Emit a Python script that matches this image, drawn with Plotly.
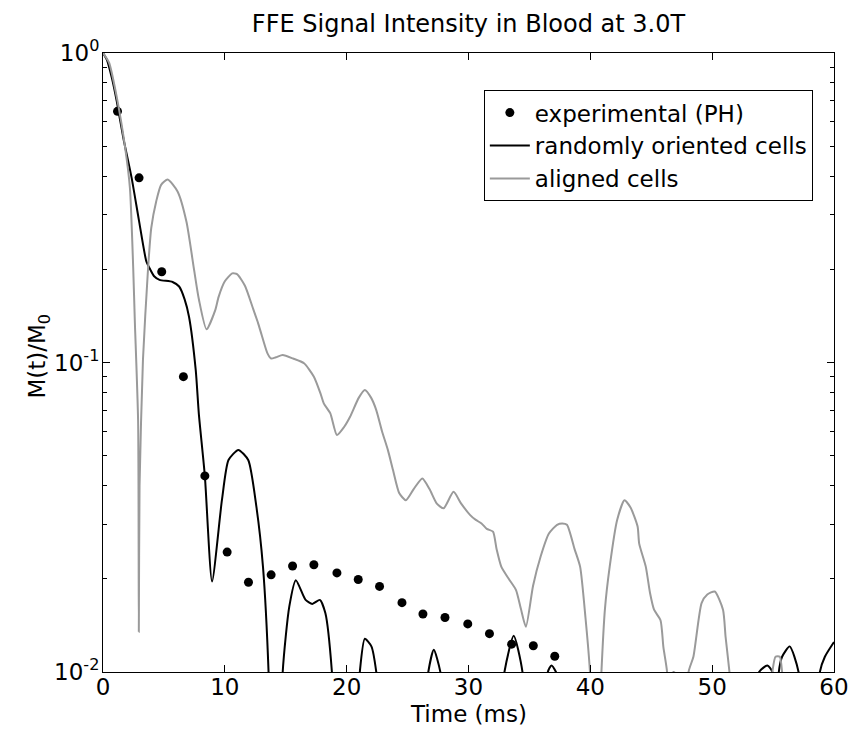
import plotly.graph_objects as go

# Experimental points (PH)
exp_t = [1.19, 2.96, 4.82, 6.60, 8.36, 10.19, 11.94, 13.80, 15.56, 17.31, 19.20,
         20.95, 22.70, 24.54, 26.26, 28.07, 29.94, 31.72, 33.54, 35.32, 37.08, 46.84]
exp_m = [0.648, 0.395, 0.1965, 0.090, 0.043, 0.0244, 0.0195, 0.0206, 0.0220, 0.0222, 0.0209,
         0.0199, 0.0189, 0.01675, 0.0154, 0.0150, 0.0143, 0.0133, 0.0123, 0.01216, 0.01124, 0.0097]

# Randomly oriented cells
rand_t = [0, 0.32, 0.73, 1.13, 1.67, 2.35, 2.95, 3.56, 3.83, 4.2, 4.64, 5.71, 6.25, 6.7,
          7.06, 7.61, 7.87, 8.36, 8.95, 9.76, 10.30, 11.11, 11.92, 12.59, 13.13, 13.59,
          14.17, 14.75, 15.29, 15.83, 16.63, 17.18, 17.80, 18.25, 18.79, 19.9, 21.08, 21.49,
          22.03, 22.43, 24.5, 26.70, 27.15, 27.69, 30.3, 32.95, 33.71, 34.43, 35.5, 36.51,
          36.81, 37.18, 45.5, 53.85, 54.53, 54.94, 55.2, 55.47, 55.74, 56.36, 57.09, 58.0,
          58.84, 59.25, 60.0]
rand_m = [1.0, 0.951, 0.83, 0.698, 0.531, 0.395, 0.288, 0.212, 0.2015, 0.19, 0.185, 0.182,
          0.176, 0.16, 0.1406, 0.0946, 0.068, 0.043, 0.0196, 0.0359, 0.0484, 0.0522, 0.0484,
          0.0342, 0.0219, 0.0100, 0.001, 0.0100, 0.01626, 0.0198, 0.0171, 0.0166, 0.0171,
          0.0155, 0.0100, 0.001, 0.0100, 0.0128, 0.0121, 0.0100, 0.001, 0.0100, 0.0118,
          0.0100, 0.001, 0.0100, 0.0131, 0.0100, 0.001, 0.0100, 0.0105, 0.0100, 0.001,
          0.0100, 0.0105, 0.0100, 0.005, 0.0100, 0.0112, 0.0121, 0.0100, 0.002, 0.0100,
          0.0112, 0.0125]

# Aligned cells
align_t = [0, 0.5, 1.13, 1.80, 2.21, 2.48, 2.61, 2.88, 2.94, 3.0, 3.28, 3.69, 3.96, 4.37,
           4.77, 5.31, 6.12, 6.85, 7.47, 7.87, 8.5, 9.22, 9.49, 10.0, 10.6, 11.0, 11.65,
           12.3, 12.73, 12.99, 13.5, 13.80, 14.2, 14.75, 15.6, 16.50, 17.31, 17.85, 18.12,
           18.66, 19.20, 19.8, 20.28, 21.0, 21.49, 22.0, 22.43, 22.9, 23.38, 23.8, 24.32,
           24.86, 25.5, 26.21, 26.8, 27.4, 27.96, 28.77, 29.4, 30.12, 30.6, 31.07, 31.5,
           32.01, 32.3, 32.69, 33.3, 33.90, 34.3, 34.71, 35.3, 35.92, 36.6, 37.27, 37.7,
           38.08, 38.7, 39.16, 39.6, 39.97, 40.4, 40.91, 41.2, 41.59, 42.2, 42.80, 43.3,
           43.88, 44.01, 44.55, 44.9, 45.23, 45.76, 46.0, 46.30, 47.2, 48.06, 48.46, 49.13,
           49.6, 50.21, 50.89, 51.1, 51.42, 53.2, 54.94, 55.20, 55.55, 55.74, 57.5, 60.0]
align_m = [1.0, 0.93, 0.72, 0.50, 0.366, 0.202, 0.137, 0.065, 0.0135, 0.04, 0.102, 0.199,
           0.272, 0.332, 0.375, 0.39, 0.357, 0.285, 0.200, 0.160, 0.128, 0.148, 0.163, 0.183,
           0.194, 0.193, 0.177, 0.150, 0.134, 0.124, 0.107, 0.103, 0.104, 0.1057, 0.103,
           0.0994, 0.090, 0.0795, 0.0738, 0.0685, 0.0583, 0.062, 0.0668, 0.077, 0.0815,
           0.077, 0.0702, 0.060, 0.0522, 0.045, 0.0378, 0.0359, 0.039, 0.0422, 0.039, 0.035,
           0.0338, 0.0382, 0.035, 0.0322, 0.031, 0.0302, 0.029, 0.0284, 0.025, 0.0219, 0.020,
           0.0184, 0.016, 0.0140, 0.019, 0.0236, 0.028, 0.0299, 0.0302, 0.0299, 0.025, 0.0219,
           0.015, 0.0100, 0.003, 0.0100, 0.016, 0.0219, 0.031, 0.0359, 0.034, 0.0295, 0.026,
           0.0219, 0.018, 0.0159, 0.0147, 0.012, 0.0100, 0.002, 0.0100, 0.0112, 0.0167,
           0.0178, 0.0182, 0.0159, 0.013, 0.0100, 0.002, 0.0100, 0.0112, 0.0112, 0.0100,
           0.002, 0.002]

x_ticks = [0, 10, 20, 30, 40, 50, 60]
y_ticks = [1, 0.1, 0.01]
y_ticktext = ["10<sup>0</sup>", "10<sup>-1</sup>", "10<sup>-2</sup>"]
y_minor = [k * 0.01 for k in range(2, 10)] + [k * 0.1 for k in range(2, 10)]

FONT = "DejaVu Sans, Verdana, sans-serif"
FS = 23

fig = go.Figure()
fig.add_trace(go.Scatter(x=exp_t, y=exp_m, mode="markers", name="experimental (PH)",
                         marker=dict(color="black", size=9)))
fig.add_trace(go.Scatter(x=rand_t, y=rand_m, mode="lines", name="randomly oriented cells",
                         line=dict(color="black", width=2, shape="spline", smoothing=0.6)))
fig.add_trace(go.Scatter(x=align_t, y=align_m, mode="lines", name="aligned cells",
                         line=dict(color="#9a9a9a", width=2, shape="spline", smoothing=0.6)))

fig.update_layout(
    width=861, height=729,
    margin=dict(l=103, r=17, t=53, b=57),
    paper_bgcolor="white", plot_bgcolor="white",
    font=dict(family=FONT, size=FS, color="black"),
    title=dict(text="FFE Signal Intensity in Blood at 3.0T", x=0.5, xref="paper",
               y=1 - 24 / 729, yref="container", yanchor="middle",
               font=dict(family=FONT, size=24, color="black")),
    showlegend=True,
    legend=dict(x=0.521, y=0.940, xanchor="left", yanchor="top",
                bgcolor="white", bordercolor="black", borderwidth=1,
                font=dict(family=FONT, size=FS, color="black"),
                itemwidth=40, tracegroupgap=0),
    annotations=[
        dict(text="Time (ms)", xref="paper", yref="paper", x=0.5,
             y=-(729 - 672) / 619, xanchor="center", yanchor="bottom",
             showarrow=False, font=dict(family=FONT, size=FS, color="black")),
        dict(text="M(t)/M<sub>0</sub>", xref="paper", yref="paper",
             x=-(102.7 - 38) / 741.6, y=0.51, xanchor="center", yanchor="middle",
             textangle=-90, showarrow=False,
             font=dict(family=FONT, size=FS, color="black")),
    ],
)
fig.update_xaxes(range=[0, 60], tickvals=x_ticks, ticks="inside", ticklen=7,
                 tickcolor="black", showline=True, linecolor="black", linewidth=1,
                 mirror="ticks", showgrid=False, zeroline=False,
                 ticklabelstandoff=-6, tickfont=dict(size=FS))
fig.update_yaxes(type="log", range=[-2, 0], tickvals=y_ticks, ticktext=y_ticktext,
                 ticks="inside", ticklen=7, tickcolor="black", showline=True,
                 linecolor="black", linewidth=1, mirror="ticks", showgrid=False,
                 zeroline=False, ticklabelstandoff=-2,
                 minor=dict(tickvals=y_minor, ticks="inside", ticklen=4, tickcolor="black",
                            showgrid=False),
                 tickfont=dict(size=FS))

fig.write_html("out.html", config={"displayModeBar": False},
               post_script="document.body.style.margin='0';document.body.style.overflow='hidden';")
